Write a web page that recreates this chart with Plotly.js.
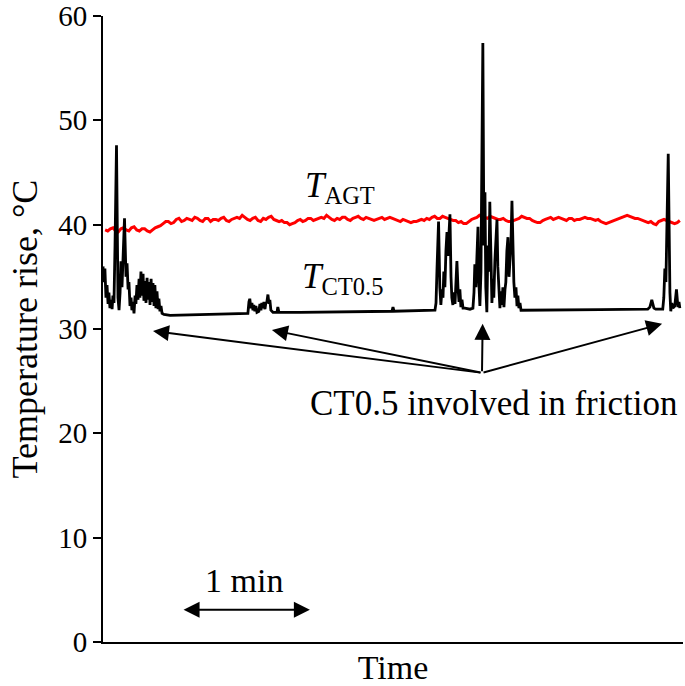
<!DOCTYPE html>
<html>
<head>
<meta charset="utf-8">
<script src="https://cdn.plot.ly/plotly-3.0.1.min.js"></script>
<style>html,body{margin:0;padding:0;background:#fff;}#chart{width:685px;height:686px;}</style>
</head>
<body>
<div id="chart"></div>
<script>
// Time in seconds (the "1 min" scale bar = 60 s)
const agtTime = [1, 2.25, 3.5, 4.75, 6, 7.25, 8.5, 9.75, 11, 12.25,
  13.5, 14.75, 16, 17.25, 18.5, 19.75, 21, 22.25, 23.5, 24.75,
  26, 27.25, 28.5, 29.75, 31, 32.25, 33.5, 34.75, 36, 37.25,
  38.5, 39.75, 41, 42.25, 43.5, 44.75, 46, 47.25, 48.5, 49.75,
  51, 52.25, 53.5, 54.75, 56, 57.25, 58.5, 59.75, 61, 62.25,
  63.5, 64.75, 66, 67.25, 68.5, 69.75, 71, 72.25, 73.5, 74.75,
  76, 77.25, 78.5, 79.75, 81, 82.25, 83.5, 84.75, 86, 87.25,
  88.5, 89.75, 91, 92.25, 93.5, 94.75, 96, 97.25, 98.5, 99.75,
  101, 102.25, 103.5, 104.75, 106, 107.25, 108.5, 109.75, 111, 112.25,
  113.5, 114.75, 116, 117.25, 118.5, 119.75, 121, 122.25, 123.5, 124.75,
  126, 127.25, 128.5, 129.75, 131, 132.25, 133.5, 134.75, 136, 137.25,
  138.5, 139.75, 141, 142.25, 143.5, 144.75, 146, 147.25, 148.5, 149.75,
  151, 152.25, 153.5, 154.75, 156, 157.25, 158.5, 159.75, 161, 162.25,
  163.5, 164.75, 166, 167.25, 168.5, 169.75, 171, 172.25, 173.5, 174.75,
  176, 177.25, 178.5, 179.75, 181, 182.25, 183.5, 184.75, 186, 187.25,
  188.5, 189.75, 191, 192.25, 193.5, 194.75, 196, 197.25, 198.5, 199.75,
  201, 202.25, 203.5, 204.75, 206, 207.25, 208.5, 209.75, 211, 212.25,
  213.5, 214.75, 216, 217.25, 218.5, 219.75, 221, 222.25, 223.5, 224.75,
  226, 227.25, 228.5, 229.75, 231, 232.25, 233.5, 234.75, 236, 237.25,
  238.5, 239.75, 241, 242.25, 243.5, 244.75, 246, 247.25, 248.5, 249.75,
  251, 252.25, 253.5, 254.75, 256, 257.25, 258.5, 259.75, 261, 262.25,
  263.5, 264.75, 266, 267.25, 268.5, 269.75, 271, 272.25, 273.5];
const agtTemp = [39.5, 39.4, 39.6, 39.7, 39.4, 39.3, 39.6, 39.7, 39.5, 39.4,
  39.7, 39.8, 39.5, 39.4, 39.6, 39.6, 39.4, 39.3, 39.5, 39.7,
  39.8, 39.9, 40.1, 40.3, 40.3, 40.1, 40.2, 40.5, 40.6, 40.3,
  40.4, 40.6, 40.5, 40.4, 40.7, 40.6, 40.4, 40.3, 40.6, 40.6,
  40.3, 40.5, 40.5, 40.4, 40.6, 40.7, 40.4, 40.3, 40.5, 40.6,
  40.7, 40.6, 40.9, 40.7, 40.5, 40.4, 40.6, 40.7, 40.4, 40.3,
  40.6, 40.5, 40.7, 40.8, 40.5, 40.4, 40.3, 40.4, 40.2, 40.2,
  40.0, 40.1, 40.2, 40.4, 40.5, 40.3, 40.4, 40.6, 40.6, 40.4,
  40.5, 40.6, 40.7, 40.6, 40.9, 40.7, 40.5, 40.4, 40.6, 40.5,
  40.7, 40.7, 40.5, 40.4, 40.6, 40.7, 40.8, 40.6, 40.5, 40.7,
  40.6, 40.5, 40.4, 40.5, 40.6, 40.7, 40.5, 40.6, 40.7, 40.6,
  40.5, 40.4, 40.3, 40.5, 40.4, 40.3, 40.2, 40.3, 40.3, 40.4,
  40.5, 40.4, 40.6, 40.5, 40.7, 40.8, 40.6, 40.6, 40.8, 40.7,
  40.6, 40.5, 40.4, 40.4, 40.2, 40.3, 40.1, 40.1, 40.3, 40.5,
  40.6, 40.7, 40.9, 40.8, 40.7, 40.6, 40.8, 40.7, 40.6, 40.5,
  40.5, 40.6, 40.4, 40.3, 40.3, 40.4, 40.5, 40.6, 40.8, 40.7,
  40.6, 40.6, 40.4, 40.3, 40.2, 40.2, 40.4, 40.5, 40.6, 40.7,
  40.5, 40.6, 40.7, 40.6, 40.5, 40.4, 40.6, 40.6, 40.4, 40.5,
  40.5, 40.6, 40.7, 40.6, 40.6, 40.5, 40.4, 40.5, 40.3, 40.2,
  40.1, 40.2, 40.3, 40.4, 40.5, 40.6, 40.7, 40.8, 40.9, 40.8,
  40.7, 40.6, 40.6, 40.5, 40.4, 40.3, 40.2, 40.3, 40.1, 40.0,
  40.3, 40.4, 40.5, 40.4, 40.3, 40.2, 40.1, 40.2, 40.4];

const ctTime = [0.0, 0.5, 0.9, 1.4, 1.9, 2.4, 2.8, 3.3, 3.8, 4.3, 4.7, 5.2, 5.7, 6.4, 7.1, 7.6, 8.1, 8.5, 9.0, 9.5,
  10.2, 10.9, 11.4, 11.9, 12.3, 12.8, 13.3, 13.7, 14.2, 14.7, 15.2, 15.6, 16.1, 16.6, 17.1, 17.5, 18.0, 18.5, 19.0, 19.4,
  19.9, 20.4, 20.9, 21.3, 21.8, 22.3, 22.8, 23.2, 23.7, 24.2, 24.6, 25.1, 25.6, 26.1, 26.5, 27.0, 27.5, 28.0, 28.9, 31.8,
  46, 60, 68.7, 69.2, 69.6, 70.1, 70.6, 71.1, 71.5, 72.0, 72.5, 73.0, 73.9, 74.4, 74.9, 75.3, 75.8, 76.3, 76.8, 77.2,
  77.7, 78.2, 78.7, 79.1, 79.6, 80.6, 82.5, 82.9, 83.4, 93.4, 117, 137, 137.5, 138, 157.4, 157.9, 158.4, 159.1, 159.7, 160.2,
  160.7, 161.2, 161.6, 162.1, 162.6, 163.1, 163.5, 164.0, 164.5, 165.0, 165.4, 165.9, 166.4, 166.9, 167.3, 167.8, 168.3, 168.8, 169.2, 169.7,
  170.2, 170.7, 171.6, 174, 175.4, 175.9, 176.3, 176.8, 177.3, 177.8, 178.2, 178.7, 179.2, 179.7, 180.1, 180.6, 181.1, 181.5, 182.0, 182.5,
  183.0, 183.4, 183.9, 184.4, 184.9, 185.3, 185.8, 186.3, 186.8, 187.2, 187.7, 188.2, 188.7, 189.1, 189.6, 190.1, 190.6, 191.0, 191.5, 192.0,
  192.5, 192.9, 193.4, 193.9, 194.4, 194.8, 195.3, 195.8, 196.3, 196.7, 197.2, 197.7, 198.2, 207, 235.6, 258.3, 259.3, 260.2, 261.2, 262.1,
  265.4, 265.9, 266.4, 266.9, 267.3, 268.0, 268.8, 269.2, 269.7, 270.2, 271.1, 271.9, 272.6, 273.1, 273.5];
const ctTemp = [36.0, 34.5, 35.8, 33.0, 34.2, 32.4, 33.5, 32.0, 32.8, 31.9, 33.2, 32.5, 38.0, 47.6, 33.0, 31.8, 33.5, 36.5, 34.0, 37.5,
  40.6, 35.0, 36.3, 33.8, 34.5, 32.2, 33.0, 31.8, 32.6, 31.5, 33.2, 32.4, 34.2, 32.8, 34.8, 33.0, 35.5, 33.2, 35.3, 32.7,
  34.6, 32.5, 34.9, 32.8, 34.5, 32.3, 34.8, 32.6, 34.4, 32.2, 34.2, 32.0, 33.6, 31.9, 32.9, 31.7, 32.2, 31.5, 31.4, 31.3,
  31.35, 31.4, 31.5, 32.6, 32.9, 32.0, 32.5, 31.8, 32.3, 31.7, 32.2, 31.6, 31.7, 32.4, 31.8, 32.5, 32.0, 32.6, 31.9, 32.5,
  32.6, 33.3, 32.4, 32.8, 31.8, 31.6, 31.6, 32.1, 31.6, 31.6, 31.65, 31.7, 32.1, 31.7, 31.8, 32.5, 36.0, 40.3, 34.0, 32.3,
  33.8, 33.0, 35.5, 34.0, 37.5, 39.3, 37.0, 38.5, 41.0, 35.0, 33.0, 32.3, 33.5, 32.4, 34.5, 36.5, 34.0, 32.6, 33.8, 32.1,
  32.8, 32.0, 32.0, 31.9, 32.0, 33.5, 36.2, 34.0, 37.0, 39.8, 34.5, 32.2, 35.5, 45.0, 57.4, 38.0, 43.1, 34.0, 31.6, 38.0,
  35.5, 42.2, 37.0, 32.5, 34.8, 33.0, 36.5, 38.0, 40.5, 36.0, 33.0, 32.0, 33.6, 32.3, 34.0, 32.1, 33.8, 34.5, 37.5, 38.8,
  35.0, 36.5, 38.0, 42.3, 36.0, 34.5, 33.0, 34.0, 32.2, 33.2, 32.0, 32.5, 31.8, 31.8, 31.85, 31.9, 32.1, 32.8, 32.0, 31.9,
  31.9, 33.0, 35.8, 34.5, 40.0, 46.8, 33.5, 31.7, 32.5, 32.0, 32.2, 33.8, 32.1, 32.6, 32.0];

const yTicks = [0, 10, 20, 30, 40, 50, 60];

const serif = '"Liberation Serif", "Times New Roman", serif';

const traces = [
  {x: agtTime, y: agtTemp, type: 'scatter', mode: 'lines', line: {color: '#ff0000', width: 3}, hoverinfo: 'skip'},
  {x: ctTime, y: ctTemp, type: 'scatter', mode: 'lines', line: {color: '#000000', width: 2.8}, hoverinfo: 'skip'}
];

const arrowBase = {text: '', showarrow: true, arrowhead: 2, arrowsize: 1.6, arrowwidth: 2, arrowcolor: '#000',
  axref: 'x', ayref: 'y', ax: 179.7, ay: 25.8, xref: 'x', yref: 'y'};

const layout = {
  width: 685, height: 686,
  margin: {l: 103, r: 2, t: 16, b: 44},
  paper_bgcolor: '#fff', plot_bgcolor: '#fff',
  showlegend: false,
  font: {family: serif, color: '#000'},
  xaxis: {
    range: [0, 275], showticklabels: false, ticks: '', showgrid: false, zeroline: false,
    showline: true, linecolor: '#000', linewidth: 2,
    title: {text: 'Time', font: {size: 34, family: serif, color: '#000'}, standoff: 12}
  },
  yaxis: {
    range: [0, 60], tickvals: yTicks, ticktext: yTicks.map(String), ticks: 'outside', ticklen: 8, tickwidth: 2, tickcolor: '#000',
    ticklabeloverflow: 'allow',
    showgrid: false, zeroline: false, showline: true, linecolor: '#000', linewidth: 2,
    tickfont: {size: 29, family: serif, color: '#000'},
    title: {text: 'Temperature rise, °C', font: {size: 36, family: serif, color: '#000'}, standoff: 10}
  },
  annotations: [
    {x: 112.4, y: 43.6, xref: 'x', yref: 'y', text: '<i>T</i><sub>AGT</sub>', showarrow: false,
      font: {size: 35, family: serif, color: '#000'}},
    {x: 113.5, y: 34.8, xref: 'x', yref: 'y', text: '<i>T</i><sub>CT0.5</sub>', showarrow: false,
      font: {size: 35, family: serif, color: '#000'}},
    {x: 185, y: 22.9, xref: 'x', yref: 'y', text: 'CT0.5 involved in friction', showarrow: false,
      font: {size: 35, family: serif, color: '#000'}},
    {x: 66.9, y: 5.9, xref: 'x', yref: 'y', text: '1 min', showarrow: false,
      font: {size: 34, family: serif, color: '#000'}},
    Object.assign({}, arrowBase, {x: 23.7, y: 29.8}),
    Object.assign({}, arrowBase, {x: 80.1, y: 29.9}),
    Object.assign({}, arrowBase, {x: 180.0, y: 30.5}),
    Object.assign({}, arrowBase, {x: 265.1, y: 30.5}),
    {x: 98.1, y: 3.1, ax: 37.5, ay: 3.1, xref: 'x', yref: 'y', axref: 'x', ayref: 'y', text: '', showarrow: true,
      arrowhead: 2, startarrowhead: 2, arrowside: 'end+start', arrowsize: 1.6, startarrowsize: 1.6, arrowwidth: 2, arrowcolor: '#000'}
  ]
};

Plotly.newPlot('chart', traces, layout, {displayModeBar: false, staticPlot: true});
</script>
</body>
</html>
